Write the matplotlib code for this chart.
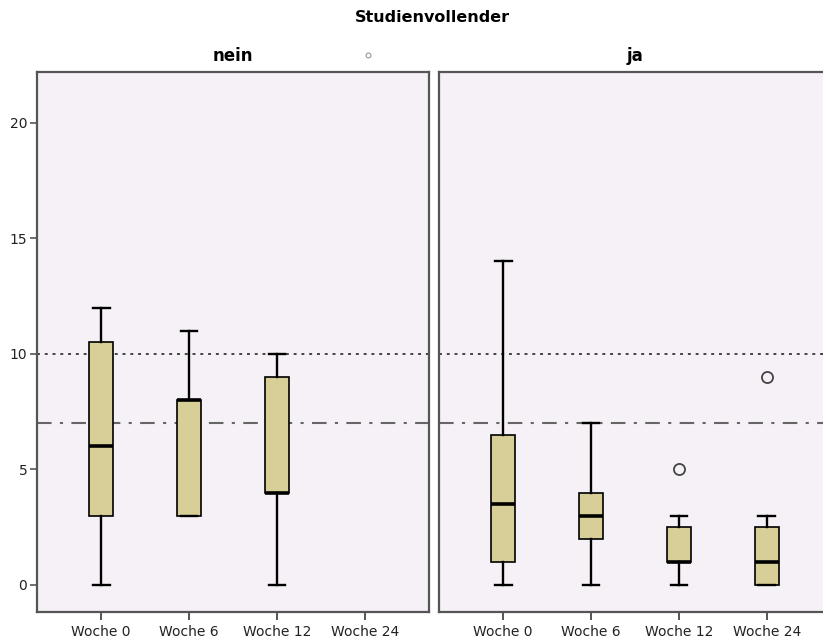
import matplotlib.pyplot as plt
from matplotlib.lines import Line2D

weeks = ["Woche 0", "Woche 6", "Woche 12", "Woche 24"]
groups = ["nein", "ja"]

# five-number summaries per week (None = no data)
nein_low = [0, 3, 0, None]
nein_q1 = [3, 3, 4, None]
nein_med = [6, 8, 4, None]
nein_q3 = [10.5, 8, 9, None]
nein_high = [12, 11, 10, None]
nein_out = [[], [], [], []]

ja_low = [0, 0, 0, 0]
ja_q1 = [1, 2, 1, 0]
ja_med = [3.5, 3, 1, 1]
ja_q3 = [6.5, 4, 2.5, 2.5]
ja_high = [14, 7, 3, 3]
ja_out = [[], [], [5], [9]]

ref_dotted = 10
ref_dashdot = 7

bg = "#f6f1f6"
boxcol = "#d7ce98"
spine = "#555555"

fig = plt.figure(figsize=(8.23, 6.44), dpi=100)
plt.rcParams['font.family'] = ['DejaVu Sans']

ax_l = fig.add_axes([37/823, 1 - 612/644, 392/823, 540/644])
ax_r = fig.add_axes([439/823, 1 - 612/644, 392/823, 540/644])

data = {
    "nein": (nein_low, nein_q1, nein_med, nein_q3, nein_high, nein_out),
    "ja": (ja_low, ja_q1, ja_med, ja_q3, ja_high, ja_out),
}

for ax, g in zip([ax_l, ax_r], groups):
    lo, q1, med, q3, hi, out = data[g]
    stats, pos = [], []
    for i in range(len(weeks)):
        if lo[i] is None:
            continue
        stats.append(dict(whislo=lo[i], q1=q1[i], med=med[i], q3=q3[i],
                          whishi=hi[i], fliers=out[i]))
        pos.append(i)
    ax.set_facecolor(bg)
    ax.axhline(ref_dotted, color="#444444", lw=1.4, ls=(0, (1.5, 2.5)), zorder=1)
    ax.axhline(ref_dashdot, color="#666666", lw=1.5, ls=(0, (7, 4, 1.5, 4)), zorder=1)
    ax.bxp(stats, positions=pos, widths=0.27, patch_artist=True,
           boxprops=dict(facecolor=boxcol, edgecolor="black", linewidth=1.2),
           medianprops=dict(color="black", linewidth=2.6),
           whiskerprops=dict(color="black", linewidth=1.7),
           capprops=dict(color="black", linewidth=1.7),
           capwidths=0.19,
           flierprops=dict(marker="o", markerfacecolor="none",
                           markeredgecolor="#444444", markersize=8,
                           markeredgewidth=1.3),
           zorder=3)
    ax.set_xlim(-0.73, 3.73)
    ax.set_ylim(-1.17, 22.2)
    ax.set_xticks(range(len(weeks)))
    ax.set_xticklabels(weeks, fontsize=10, color="#222222")
    ax.tick_params(axis="x", length=6, width=1.4, color=spine, pad=3)
    for s in ax.spines.values():
        s.set_color(spine)
        s.set_linewidth(1.6)
    ax.set_title(g, fontsize=12, fontweight="bold", pad=8)

ax_l.set_yticks([0, 5, 10, 15, 20])
ax_l.tick_params(axis="y", length=5, width=1.2, color=spine, labelsize=10,
                 labelcolor="#222222", pad=2)
ax_r.set_yticks([])

fig.text(432/823, 1 - 17/644, "Studienvollender", ha="center", va="center",
         fontsize=11.5, fontweight="bold")
fig.add_artist(Line2D([368/823], [1 - 55/644], marker="o", markersize=3.5,
                      markerfacecolor="none", markeredgecolor="#999999",
                      markeredgewidth=0.8, transform=fig.transFigure))

plt.savefig("out.png", dpi=100)
